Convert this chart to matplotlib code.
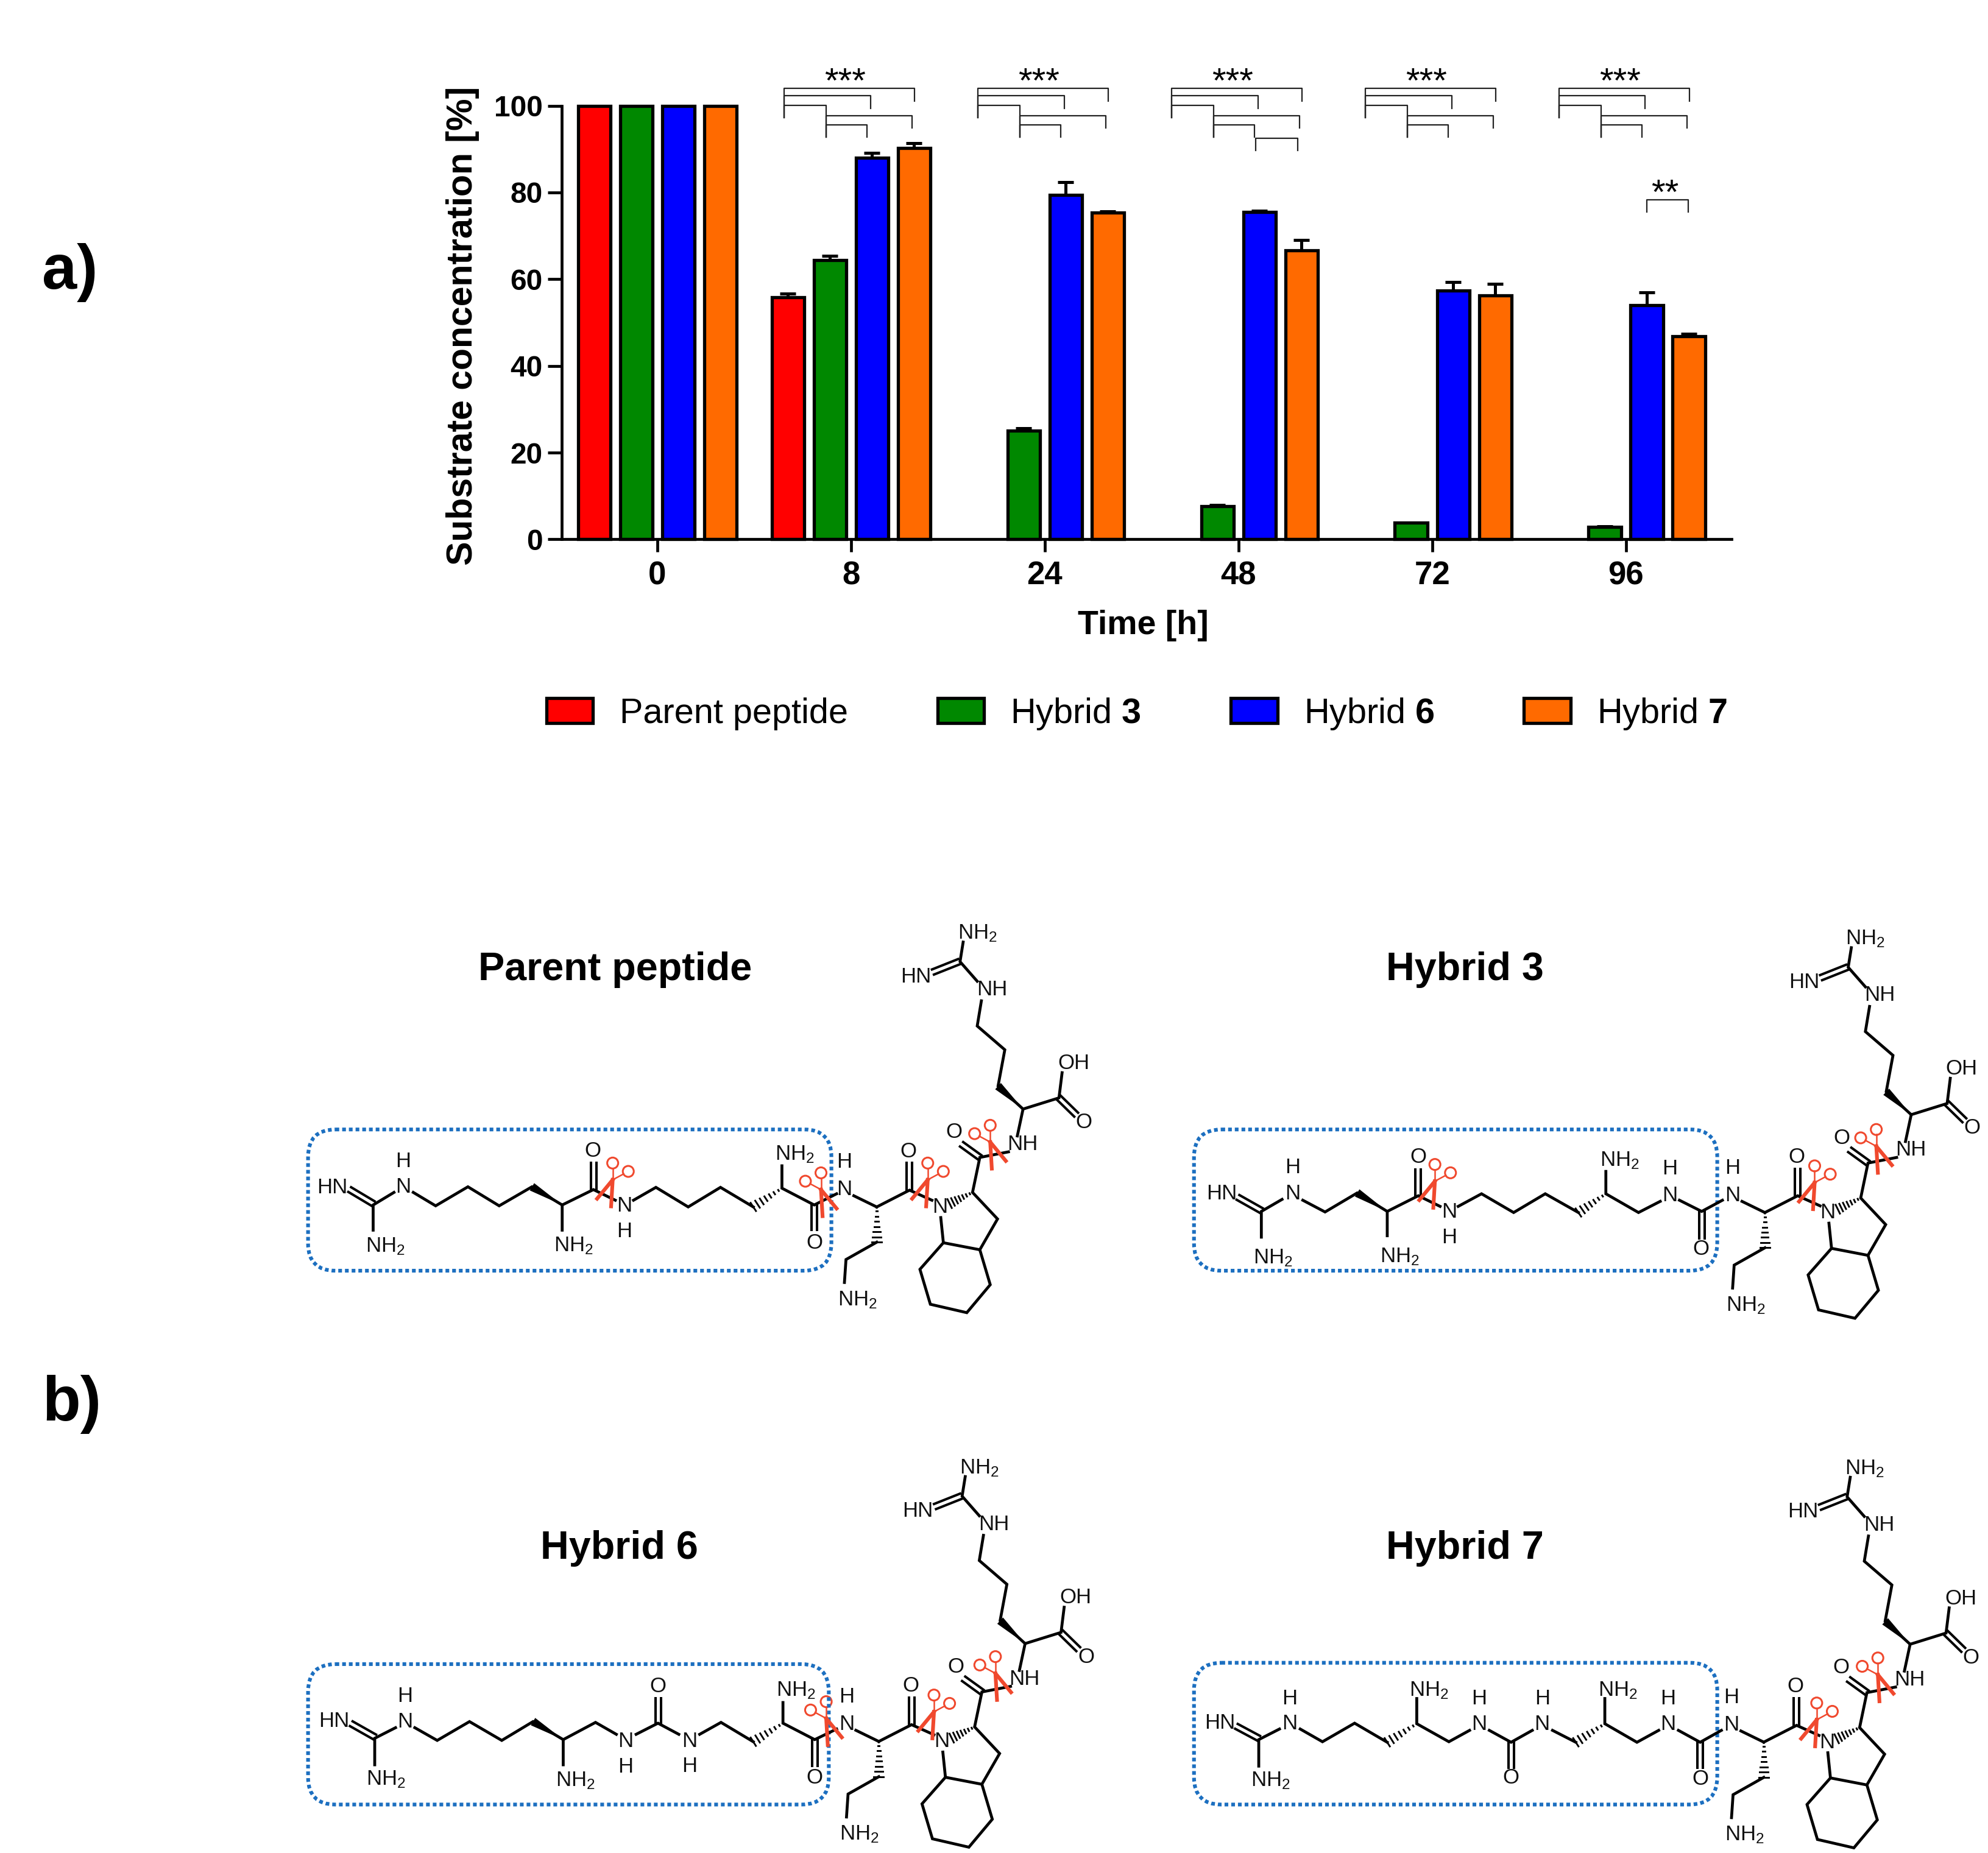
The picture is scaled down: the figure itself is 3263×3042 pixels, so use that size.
import matplotlib
matplotlib.use("Agg")
import matplotlib.pyplot as plt
import numpy as np
from matplotlib.patches import Circle, FancyBboxPatch, Patch, Polygon

plt.rcParams['font.family'] = ['Liberation Sans', 'DejaVu Sans']
plt.rcParams['mathtext.fontset'] = 'custom'
plt.rcParams['mathtext.rm'] = 'Liberation Sans'
plt.rcParams['mathtext.bf'] = 'Liberation Sans:bold'
plt.rcParams['mathtext.default'] = 'regular'

# Bar data, nan = no bar
times = ['0', '8', '24', '48', '72', '96']
nan = float('nan')
parent = [100, 55.9, nan, nan, nan, nan]
hybrid3 = [100, 64.4, 25.1, 7.6, 3.9, 2.8]
hybrid6 = [100, 88.0, 79.4, 75.5, 57.4, 54.0]
hybrid7 = [100, 90.2, 75.4, 66.7, 56.3, 46.8]
parent_err = [0, 0.8, 0, 0, 0, 0]
hybrid3_err = [0, 1.0, 0.5, 0.3, 0, 0.2]
hybrid6_err = [0, 1.1, 3.0, 0.3, 2.0, 3.0]
hybrid7_err = [0, 1.2, 0.2, 2.3, 2.6, 0.6]
names = ['Parent peptide', 'Hybrid $\\mathbf{3}$', 'Hybrid $\\mathbf{6}$', 'Hybrid $\\mathbf{7}$']
colors = ['#ff0000', '#008800', '#0000ff', '#ff6a00']

# Significance brackets: x1, x2, y, left drop, right drop (x relative to the group)
brackets = [(-0.346, 0.327, 104.0, 97.3, 101.0),
            (-0.346, 0.100, 102.3, 97.3, 99.4),
            (-0.346, -0.129, 100.1, 97.3, 92.8),
            (-0.129, 0.314, 97.7, 92.8, 94.9),
            (-0.129, 0.082, 95.6, 92.8, 92.8)]
bracket_groups = [1, 2, 3, 4, 5]
extra_brackets = [(3, 0.090, 0.305, 92.5, 89.7, 89.7), (5, 0.107, 0.321, 78.3, 75.5, 75.5)]

# Molecule drawing, in coordinates of the zoomed crops
NH2 = 'NH$_2$'
# shared C-terminal part, given for the parent peptide
tail_bonds = [[(1122, 1092), (1078, 1052)], [(1122, 1092), (1185, 1032), (1228, 1068)],
              [(1122, 1218), (1063, 1280), (1060, 1362)],
              [(1245, 1130), (1250, 1220), (1320, 1245), (1354, 1135), (1306, 1040), (1320, 915), (1375, 895)],
              [(1250, 1220), (1205, 1315), (1225, 1440), (1295, 1470), (1340, 1370), (1320, 1245)],
              [(1392, 838), (1403, 742), (1472, 702), (1478, 612)],
              [(1403, 742), (1355, 660), (1368, 530), (1315, 445), (1323, 355)],
              [(1315, 285), (1282, 215), (1288, 145)]]
tail_doubles = [[(1185, 1032), (1185, 935)], [(1320, 915), (1285, 868)],
                [(1472, 702), (1505, 762)], [(1280, 215), (1230, 252)]]
tail_wedges = [[(1403, 742), (1355, 660)]]
tail_hashes = [[(1122, 1092), (1122, 1218)], [(1306, 1040), (1262, 1080)]]
tail_labels = [('H', 1060, 932), ('N', 1060, 1030), ('O', 1183, 893), ('N', 1243, 1092),
               (NH2, 1085, 1415), ('O', 1270, 825), ('NH', 1402, 868), ('OH', 1500, 578),
               ('O', 1520, 790), ('NH', 1343, 315), (NH2, 1315, 105), ('HN', 1197, 268)]

parent_bonds = [[(155, 1175), (155, 1085), (195, 1040)],
                [(232, 1040), (275, 1088), (337, 1020), (397, 1088), (460, 1020), (518, 1085), (518, 1175)],
                [(518, 1085), (578, 1030), (620, 1068)],
                [(655, 1068), (698, 1022), (760, 1092), (822, 1022), (885, 1092)],
                [(940, 945), (940, 1025), (1002, 1085), (1045, 1045)]]
parent_doubles = [[(110, 1030), (155, 1080)], [(578, 1030), (578, 935)], [(1002, 1085), (1002, 1175)]]
parent_wedges = [[(518, 1085), (460, 1020)]]
parent_hashes = [[(940, 1025), (885, 1092)]]
parent_labels = [('HN', 77, 1022), (NH2, 178, 1225), ('N', 213, 1020), ('H', 213, 930), (NH2, 540, 1222),
                 ('O', 577, 892), ('N', 637, 1088), ('H', 637, 1180), (NH2, 965, 895), ('O', 1002, 1220)]

h3_bonds = [[(165, 1200), (165, 1108), (205, 1065)],
            [(245, 1068), (288, 1110), (350, 1042), (408, 1108), (408, 1195)],
            [(408, 1108), (468, 1052), (510, 1090)],
            [(545, 1090), (590, 1045), (652, 1112), (713, 1045), (777, 1112)],
            [(830, 965), (830, 1045), (893, 1112), (935, 1072)],
            [(972, 1068), (1015, 1108), (1055, 1068)]]
h3_doubles = [[(120, 1058), (165, 1105)], [(468, 1052), (468, 958)], [(1015, 1108), (1015, 1205)]]
h3_wedges = [[(408, 1108), (350, 1042)]]
h3_hashes = [[(830, 1045), (777, 1112)]]
h3_labels = [('HN', 88, 1045), (NH2, 188, 1265), ('N', 225, 1045), ('H', 225, 950), (NH2, 432, 1262),
             ('O', 468, 913), ('N', 528, 1110), ('H', 528, 1202), (NH2, 857, 918), ('N', 953, 1050),
             ('H', 953, 955), ('O', 1013, 1243)]

h6_bonds = [[(158, 1235), (158, 1135), (198, 1095)],
            [(235, 1095), (278, 1143), (340, 1072), (402, 1143), (462, 1072), (520, 1140), (520, 1235)],
            [(520, 1140), (582, 1075), (622, 1120)],
            [(660, 1120), (702, 1078), (742, 1120)],
            [(782, 1120), (823, 1075), (885, 1148)],
            [(942, 1000), (942, 1078), (1003, 1140), (1045, 1100)]]
h6_doubles = [[(113, 1080), (158, 1130)], [(702, 1078), (702, 985)], [(1003, 1140), (1003, 1240)]]
h6_wedges = [[(520, 1140), (462, 1072)]]
h6_hashes = [[(942, 1078), (885, 1148)]]
h6_labels = [('HN', 80, 1070), (NH2, 180, 1280), ('N', 216, 1072), ('H', 216, 975), (NH2, 543, 1285),
             ('N', 640, 1145), ('H', 640, 1243), ('O', 702, 940), ('N', 762, 1145), ('H', 762, 1240),
             (NH2, 967, 945), ('O', 1003, 1285)]

h7_bonds = [[(160, 1240), (160, 1140), (200, 1100)],
            [(240, 1100), (283, 1148), (345, 1078), (408, 1150)],
            [(465, 985), (465, 1080), (527, 1148), (567, 1105)],
            [(605, 1105), (647, 1150), (688, 1105)],
            [(727, 1105), (772, 1150)],
            [(828, 985), (828, 1080), (890, 1150), (932, 1105)],
            [(970, 1105), (1012, 1150), (1053, 1105)]]
h7_doubles = [[(117, 1090), (160, 1135)], [(647, 1150), (647, 1245)], [(1012, 1150), (1012, 1245)]]
h7_wedges = []
h7_hashes = [[(465, 1080), (408, 1150)], [(828, 1080), (772, 1150)]]
h7_labels = [('HN', 85, 1077), (NH2, 183, 1285), ('N', 220, 1080), ('H', 220, 985), (NH2, 488, 945),
             ('N', 585, 1082), ('H', 585, 985), ('O', 647, 1285), ('N', 707, 1082), ('H', 707, 985),
             (NH2, 853, 945), ('N', 950, 1082), ('H', 950, 985), ('O', 1012, 1288)]

# pivot x, pivot y, mirrored
parent_cuts = [(615, 995, False), (1015, 1030, True), (1220, 995, False), (1340, 860, True)]
h3_cuts = [(500, 1000, False), (1233, 1005, False), (1352, 875, True)]
h6_cuts = [(1025, 1060, True), (1232, 1035, False), (1350, 890, True)]
h7_cuts = [(1237, 1065, False), (1355, 895, True)]

titles = ['Parent peptide', 'Hybrid 3', 'Hybrid 6', 'Hybrid 7']
title_pos = [(1010, 1592), (2404, 1592), (1016, 2542), (2404, 2542)]


fig = plt.figure(figsize=(32.63, 30.42), dpi=100, facecolor='white')

# Bar chart, placed by pixel position of the axes
ax = fig.add_axes([922 / 3263, (3042 - 885.4) / 3042, 1920 / 3263, 711.8 / 3042])
x = np.arange(len(times))
step = 0.217
series = [parent, hybrid3, hybrid6, hybrid7]
errors = [parent_err, hybrid3_err, hybrid6_err, hybrid7_err]
for i, (vals, errs) in enumerate(zip(series, errors)):
    pos = x + (i - 1.5) * step
    ax.bar(pos, vals, width=0.168, color=colors[i], edgecolor='black', linewidth=3.8,
           label=names[i], clip_on=False, zorder=3)
    vals = np.array(vals, dtype=float)
    errs = np.array(errs, dtype=float)
    keep = errs > 0
    ax.errorbar(pos[keep], vals[keep], yerr=[np.zeros(keep.sum()), errs[keep]], fmt='none',
                ecolor='black', elinewidth=3.6, capsize=9.5, capthick=3.6, clip_on=False, zorder=2)

ax.set_xlim(-0.493, 5.545)
ax.set_ylim(0, 100)
ax.set_xticks(x)
ax.set_xticklabels(times, fontsize=38, fontweight='bold')
ax.set_yticks([0, 20, 40, 60, 80, 100])
ax.tick_params(axis='y', labelsize=34.5, width=3.4, length=16.5, pad=6)
ax.tick_params(axis='x', width=3.4, length=15, pad=10)
for lab in ax.get_yticklabels():
    lab.set_fontweight('bold')
ax.spines['top'].set_visible(False)
ax.spines['right'].set_visible(False)
ax.spines['left'].set_linewidth(3.4)
ax.spines['bottom'].set_linewidth(3.4)
ax.spines['bottom'].set_zorder(5)
ax.set_ylabel('Substrate concentration [%]', fontsize=42.5, fontweight='bold')
ax.yaxis.set_label_coords(-0.0705, 0.492)
ax.set_xlabel('Time [h]', fontsize=40, fontweight='bold')
ax.xaxis.set_label_coords(0.497, -0.162)


def draw_bracket(x0, x1, x2, y, left, right):
    ax.plot([x0 + x1, x0 + x1, x0 + x2, x0 + x2], [left, y, y, right], color='#222222',
            linewidth=1.6, clip_on=False, zorder=4)


for g in bracket_groups:
    for b in brackets:
        draw_bracket(x[g], *b)
    ax.text(x[g] - 0.03, 105.2, '***', fontsize=42, ha='center', va='center', clip_on=False)
for g, x1, x2, y, left, right in extra_brackets:
    draw_bracket(x[g], x1, x2, y, left, right)
ax.text(x[5] + 0.2, 79.4, '**', fontsize=42, ha='center', va='center', clip_on=False)

handles = [Patch(facecolor=c, edgecolor='black', linewidth=3.8) for c in colors]
ax.legend(handles, names, ncol=4, loc='center', bbox_to_anchor=(1866 / 3263, 1 - 1172 / 3042),
          bbox_transform=fig.transFigure, frameon=False, fontsize=41.5, handlelength=1.33,
          handleheight=0.72, handletextpad=0.75, columnspacing=2.55, borderpad=0, borderaxespad=0)

# Overlay in picture pixels for the structures
over = fig.add_axes([0, 0, 1, 1], zorder=-1)
over.set_xlim(0, 3263)
over.set_ylim(3042, 0)
over.axis('off')

over.text(69, 447, 'a)', fontsize=74, fontweight='bold', va='center')
over.text(69, 2305, 'b)', fontsize=74, fontweight='bold', va='center')
for t, (tx, ty) in zip(titles, title_pos):
    over.text(tx, ty, t, fontsize=46.5, fontweight='bold', ha='center', va='center')


def draw_parts(to_px, bonds, doubles, wedges, hashes, labels):
    for line in bonds:
        p = np.array([to_px(*q) for q in line])
        over.plot(p[:, 0], p[:, 1], color='black', linewidth=3.4, solid_joinstyle='miter')
    for a, b in doubles:
        a, b = np.array(to_px(*a)), np.array(to_px(*b))
        d = (b - a) / np.hypot(*(b - a))
        n = np.array([-d[1], d[0]]) * 4.5
        for s in (-1, 1):
            over.plot([a[0] + s * n[0], b[0] + s * n[0]], [a[1] + s * n[1], b[1] + s * n[1]],
                      color='black', linewidth=2.9)
    for a, b in wedges:
        a, b = np.array(to_px(*a)), np.array(to_px(*b))
        d = (b - a) / np.hypot(*(b - a))
        n = np.array([-d[1], d[0]]) * 7
        over.add_patch(Polygon([a, b + n, b - n], closed=True, color='black', linewidth=0))
    for a, b in hashes:
        a, b = np.array(to_px(*a)), np.array(to_px(*b))
        d = b - a
        n = np.array([-d[1], d[0]]) / np.hypot(*d)
        for f in np.linspace(0.12, 1, 7):
            c = a + f * d
            w = 8 * f
            over.plot([c[0] - w * n[0], c[0] + w * n[0]], [c[1] - w * n[1], c[1] + w * n[1]],
                      color='black', linewidth=2.1)
    for txt, lx, ly in labels:
        px, py = to_px(lx, ly)
        if txt == NH2:
            py += 4
        over.text(px, py, txt, fontsize=25, ha='center', va='center', color='#111111')


def draw_cut(px, py, flip):
    m = -1 if flip else 1
    for lx, ly in [(0, -27.5), (25.6, -13.8)]:
        over.plot([px, px + m * lx * 0.7], [py, py + ly * 0.7], color='#f0492e', linewidth=1.8)
        over.add_patch(Circle((px + m * lx, py + ly), 9, fill=False, edgecolor='#f0492e', linewidth=2.2))
    for lx, ly in [(-25.6, 31), (-2.6, 43.6)]:
        over.plot([px, px + m * lx], [py, py + ly], color='#f0492e', linewidth=4.4)


def draw_molecule(ox, oy, sx, sy, anchor, bonds, doubles, wedges, hashes, labels, cuts, box):
    to_px = lambda a, b: (ox + a / sx, oy + b / sy)
    draw_parts(to_px, bonds, doubles, wedges, hashes, labels)
    # tail keeps its own scale and is shifted onto the anchor carbon
    ax0, ay0 = 480 + 1122 / 1.17, 1480 + 1092 / 2.178
    tail_px = lambda a, b: (480 + a / 1.17 - ax0 + anchor[0], 1480 + b / 2.178 - ay0 + anchor[1])
    draw_parts(tail_px, tail_bonds, tail_doubles, tail_wedges, tail_hashes, tail_labels)
    for cx, cy, flip in cuts:
        draw_cut(*to_px(cx, cy), flip)
    x0, y0 = to_px(box[0], box[1])
    x1, y1 = to_px(box[2], box[3])
    over.add_patch(FancyBboxPatch((x0 + 45, y0 + 45), x1 - x0 - 90, y1 - y0 - 90,
                                  boxstyle='round,pad=45,rounding_size=45', fill=False,
                                  edgecolor='#1c6fc0', linewidth=4.4, linestyle=(0, (1, 0.8))))


draw_molecule(480, 1480, 1.17, 2.178, (1439, 1981.4), parent_bonds, parent_doubles, parent_wedges,
              parent_hashes, parent_labels, parent_cuts, (30, 815, 1035, 1320))
draw_molecule(1930, 1480, 1.176, 2.178, (2896.8, 1990.6), h3_bonds, h3_doubles, h3_wedges,
              h3_hashes, h3_labels, h3_cuts, (35, 815, 1045, 1320))
draw_molecule(480, 2360, 1.17, 2.299, (1442.4, 2858.9), h6_bonds, h6_doubles, h6_wedges,
              h6_hashes, h6_labels, h6_cuts, (30, 855, 1030, 1385))
draw_molecule(1930, 2360, 1.176, 2.299, (2895, 2860), h7_bonds, h7_doubles, h7_wedges,
              h7_hashes, h7_labels, h7_cuts, (35, 850, 1045, 1385))

fig.savefig('out.png', dpi=100)
